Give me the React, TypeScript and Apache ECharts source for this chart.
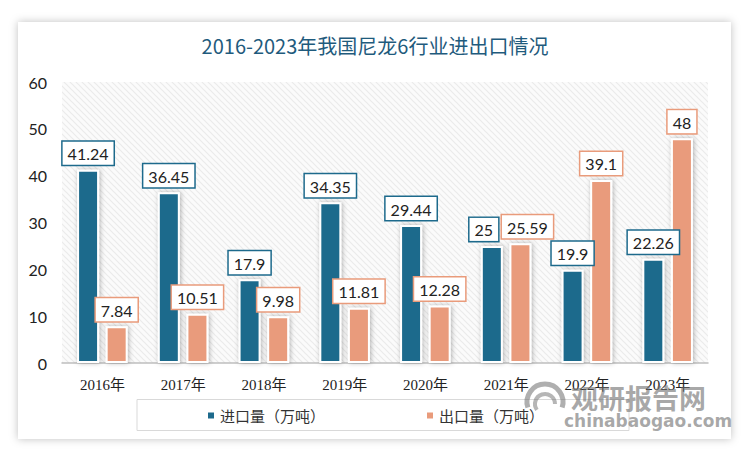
import React, { useEffect, useRef } from "react";
import * as echarts from "echarts";

const categories = ["2016年", "2017年", "2018年", "2019年", "2020年", "2021年", "2022年", "2023年"];
const importValues = [41.24, 36.45, 17.9, 34.35, 29.44, 25, 19.9, 22.26];
const exportValues = [7.84, 10.51, 9.98, 11.81, 12.28, 25.59, 39.1, 48];
const seriesNames = ["进口量（万吨）", "出口量（万吨）"];
const titleText = "2016-2023年我国尼龙6行业进出口情况";

const IMPORT_COLOR = "#1d6a8c";
const EXPORT_COLOR = "#e99b7b";

function makePattern(): HTMLCanvasElement {
  const c = document.createElement("canvas");
  c.width = 6;
  c.height = 6;
  const ctx = c.getContext("2d")!;
  ctx.fillStyle = "#fbfbfb";
  ctx.fillRect(0, 0, 6, 6);
  ctx.strokeStyle = "#ebebeb";
  ctx.lineWidth = 1.2;
  ctx.beginPath();
  ctx.moveTo(0, 0);
  ctx.lineTo(6, 6);
  ctx.moveTo(-3, 3);
  ctx.lineTo(3, 9);
  ctx.moveTo(3, -3);
  ctx.lineTo(9, 3);
  ctx.stroke();
  return c;
}

export default function App() {
  const ref = useRef<HTMLDivElement>(null);
  useEffect(() => {
    if (!ref.current) return;
    const chart = echarts.init(ref.current, undefined, { renderer: "svg" });
    const labelFont = "Lato, 'Liberation Sans', sans-serif";
    const mkLabel = (color: string) => ({
      show: true,
      position: "top" as const,
      distance: 5,
      fontSize: 16,
      fontFamily: labelFont,
      color: "#222",
      backgroundColor: "#fff",
      borderColor: color,
      borderWidth: 1.5,
      padding: [4, 5, 3, 5],
    });
    const barStyle = (color: string) => ({
      color,
      borderColor: "#fff",
      borderWidth: 2,
      shadowColor: "rgba(0,0,0,0.3)",
      shadowBlur: 5,
      shadowOffsetX: 1,
      shadowOffsetY: 0,
    });
    // separate the two labels that would collide (2021)
    const importData = importValues.map((v, i) =>
      i === 5 ? { value: v, label: { offset: [-8, 0] } } : v
    );
    const exportData = exportValues.map((v, i) =>
      i === 5 ? { value: v, label: { offset: [7, 0] } } : v
    );
    chart.setOption({
      animation: false,
      backgroundColor: "#fff",
      title: {
        text: titleText,
        left: "center",
        top: 30,
        textStyle: {
          fontFamily: "'Noto Sans CJK SC', sans-serif",
          fontSize: 20,
          fontWeight: "normal",
          color: "#1f5b7d",
        },
      },
      graphic: [
        {
          type: "rect",
          z: -10,
          shape: { x: 18, y: 22, width: 713, height: 417 },
          style: { fill: "#fff", shadowBlur: 8, shadowColor: "rgba(0,0,0,0.25)" },
          silent: true,
        },
        {
          type: "rect",
          z: -5,
          shape: { x: 137, y: 399.5, width: 492, height: 31 },
          style: { fill: "#fff", stroke: "#d9d9d9", lineWidth: 1 },
          silent: true,
        },
        {
          type: "arc",
          z: 50,
          shape: { cx: 545, cy: 402, r: 18, startAngle: Math.PI * 0.9, endAngle: Math.PI * 2.1 },
          style: { stroke: "rgba(110,110,110,0.55)", lineWidth: 5, fill: "none" },
          silent: true,
        },
        {
          type: "arc",
          z: 50,
          shape: { cx: 545, cy: 404, r: 10, startAngle: Math.PI * 0.8, endAngle: Math.PI * 2.0 },
          style: { stroke: "rgba(110,110,110,0.5)", lineWidth: 4, fill: "none" },
          silent: true,
        },
        {
          type: "text",
          z: 50,
          x: 571,
          y: 384,
          style: {
            text: "观研报告网",
            fontSize: 27,
            fontWeight: "bold",
            fontFamily: "'Noto Sans CJK SC', sans-serif",
            fill: "rgba(110,110,110,0.6)",
          },
          silent: true,
        },
        {
          type: "text",
          z: 50,
          x: 564,
          y: 412,
          style: {
            text: "chinabaogao.com",
            fontSize: 17,
            fontWeight: "bold",
            fontFamily: "'DejaVu Sans', sans-serif",
            fill: "rgba(110,110,110,0.6)",
          },
          silent: true,
        },
      ],
      legend: {
        data: seriesNames,
        bottom: 31,
        left: "center",
        itemWidth: 8,
        itemHeight: 8,
        itemGap: 100,
        icon: "rect",
        textStyle: {
          fontSize: 15,
          color: "#333",
          fontFamily: "'Noto Sans CJK SC', sans-serif",
        },
      },
      grid: {
        left: 62,
        right: 42,
        top: 82,
        bottom: 96,
        show: true,
        borderWidth: 0,
        backgroundColor: { image: makePattern(), repeat: "repeat" },
      },
      xAxis: {
        type: "category",
        data: categories,
        axisLine: { lineStyle: { color: "#bfbfbf", width: 1.5 } },
        axisTick: { show: false },
        axisLabel: {
          fontSize: 15,
          color: "#222",
          margin: 14,
          fontFamily: "'Liberation Serif', 'Noto Sans CJK SC', serif",
        },
      },
      yAxis: {
        type: "value",
        min: 0,
        max: 60,
        interval: 10,
        axisLine: { show: false },
        axisTick: { show: false },
        splitLine: { show: false },
        axisLabel: {
          fontSize: 16,
          color: "#222",
          margin: 15,
          fontFamily: labelFont,
        },
      },
      series: [
        {
          name: seriesNames[0],
          type: "bar",
          data: importData,
          barWidth: 22,
          barGap: "30%",
          itemStyle: barStyle(IMPORT_COLOR),
          label: mkLabel(IMPORT_COLOR),
        },
        {
          name: seriesNames[1],
          type: "bar",
          data: exportData,
          barWidth: 22,
          barGap: "30%",
          itemStyle: barStyle(EXPORT_COLOR),
          label: mkLabel(EXPORT_COLOR),
        },
      ],
    });
    return () => chart.dispose();
  }, []);
  return (
    <div
      ref={ref}
      style={{ position: "fixed", left: 0, top: 0, width: 750, height: 459 }}
    />
  );
}
